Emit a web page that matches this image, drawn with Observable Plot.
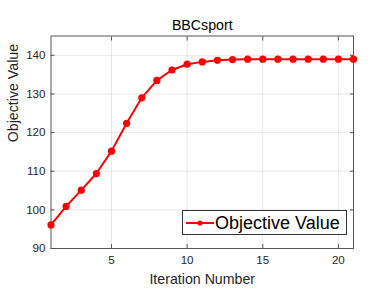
<!DOCTYPE html>
<html><head>
<meta charset="utf-8">
<script src="https://cdn.jsdelivr.net/npm/d3@7"></script>
<script src="https://cdn.jsdelivr.net/npm/@observablehq/plot@0.6"></script>
<style>
body{margin:0;background:#fff}
#wrap{position:relative;width:390px;height:294px;font-family:"Liberation Sans",Arial,sans-serif}
#legend{position:absolute;left:182px;top:210px;width:165px;height:25px;border:1px solid #333;background:#fff;display:flex;align-items:center;box-sizing:border-box}
#legend span{font-size:18px;color:#000;margin-left:1px;line-height:1}
</style>
</head><body><div id="wrap"></div>
<script>
const titleText = "BBCsport";
const xLabel = "Iteration Number";
const yLabel = "Objective Value";
const seriesName = "Objective Value";
const iterations = [1,2,3,4,5,6,7,8,9,10,11,12,13,14,15,16,17,18,19,20,21];
const objectiveValues = [96.1,100.9,105.1,109.4,115.2,122.4,129.0,133.5,136.2,137.7,138.3,138.7,138.9,139.0,139.0,139.0,139.0,139.0,139.0,139.0,139.0];
const xTicks = [5,10,15,20];
const yTicks = [90,100,110,120,130,140];

const data = iterations.map((it,i)=>({it, v: objectiveValues[i]}));
const font = '"Liberation Sans", Arial, sans-serif';
const axisColor = "#555";

const chart = Plot.plot({
  width: 390, height: 294,
  marginLeft: 50.5, marginRight: 37, marginTop: 35.5, marginBottom: 46,
  style: {fontFamily: font, background: "#fff", overflow: "visible"},
  x: {domain: [1,21]},
  y: {domain: [90,145]},
  marks: [
    Plot.gridX(xTicks, {stroke: "#000", strokeOpacity: 0.09}),
    Plot.gridY(yTicks, {stroke: "#000", strokeOpacity: 0.09}),
    Plot.axisX({anchor: "bottom", ticks: xTicks, tickSize: -4, tickPadding: 11, fontSize: 11.6, color: "#262626", stroke: axisColor, label: null}),
    Plot.axisX({anchor: "top", ticks: xTicks, tickSize: -4, tickFormat: () => "", stroke: axisColor, label: null}),
    Plot.axisY({anchor: "left", ticks: yTicks, tickSize: -4, tickPadding: 9.5, fontSize: 11.6, color: "#262626", stroke: axisColor, label: null}),
    Plot.axisY({anchor: "right", ticks: yTicks, tickSize: -4, tickFormat: () => "", stroke: axisColor, label: null}),
    Plot.frame({stroke: axisColor, strokeWidth: 1}),
    Plot.line(data, {x: "it", y: "v", stroke: "#ff0000", strokeWidth: 2}),
    Plot.dot(data, {x: "it", y: "v", r: 3.6, fill: "#ff0000", stroke: "none"}),
    Plot.text([titleText], {frameAnchor: "top", lineAnchor: "middle", dy: -10.5, fontSize: 14.2, fill: "#000"}),
    Plot.text([xLabel], {frameAnchor: "bottom", lineAnchor: "middle", dy: 31, fontSize: 14.2, fill: "#262626"}),
    Plot.text([yLabel], {frameAnchor: "left", lineAnchor: "middle", dx: -37.5, rotate: -90, fontSize: 14.2, fill: "#262626"})
  ]
});
const wrap = document.getElementById("wrap");
wrap.appendChild(chart);
const leg = document.createElement("div");
leg.id = "legend";
leg.innerHTML = '<svg width="31" height="12" style="flex:none"><line x1="3" y1="6" x2="31" y2="6" stroke="#ff0000" stroke-width="2"/><circle cx="17" cy="6" r="2.6" fill="#ff0000"/></svg><span></span>';
leg.querySelector("span").textContent = seriesName;
wrap.appendChild(leg);
</script>
</body></html>
